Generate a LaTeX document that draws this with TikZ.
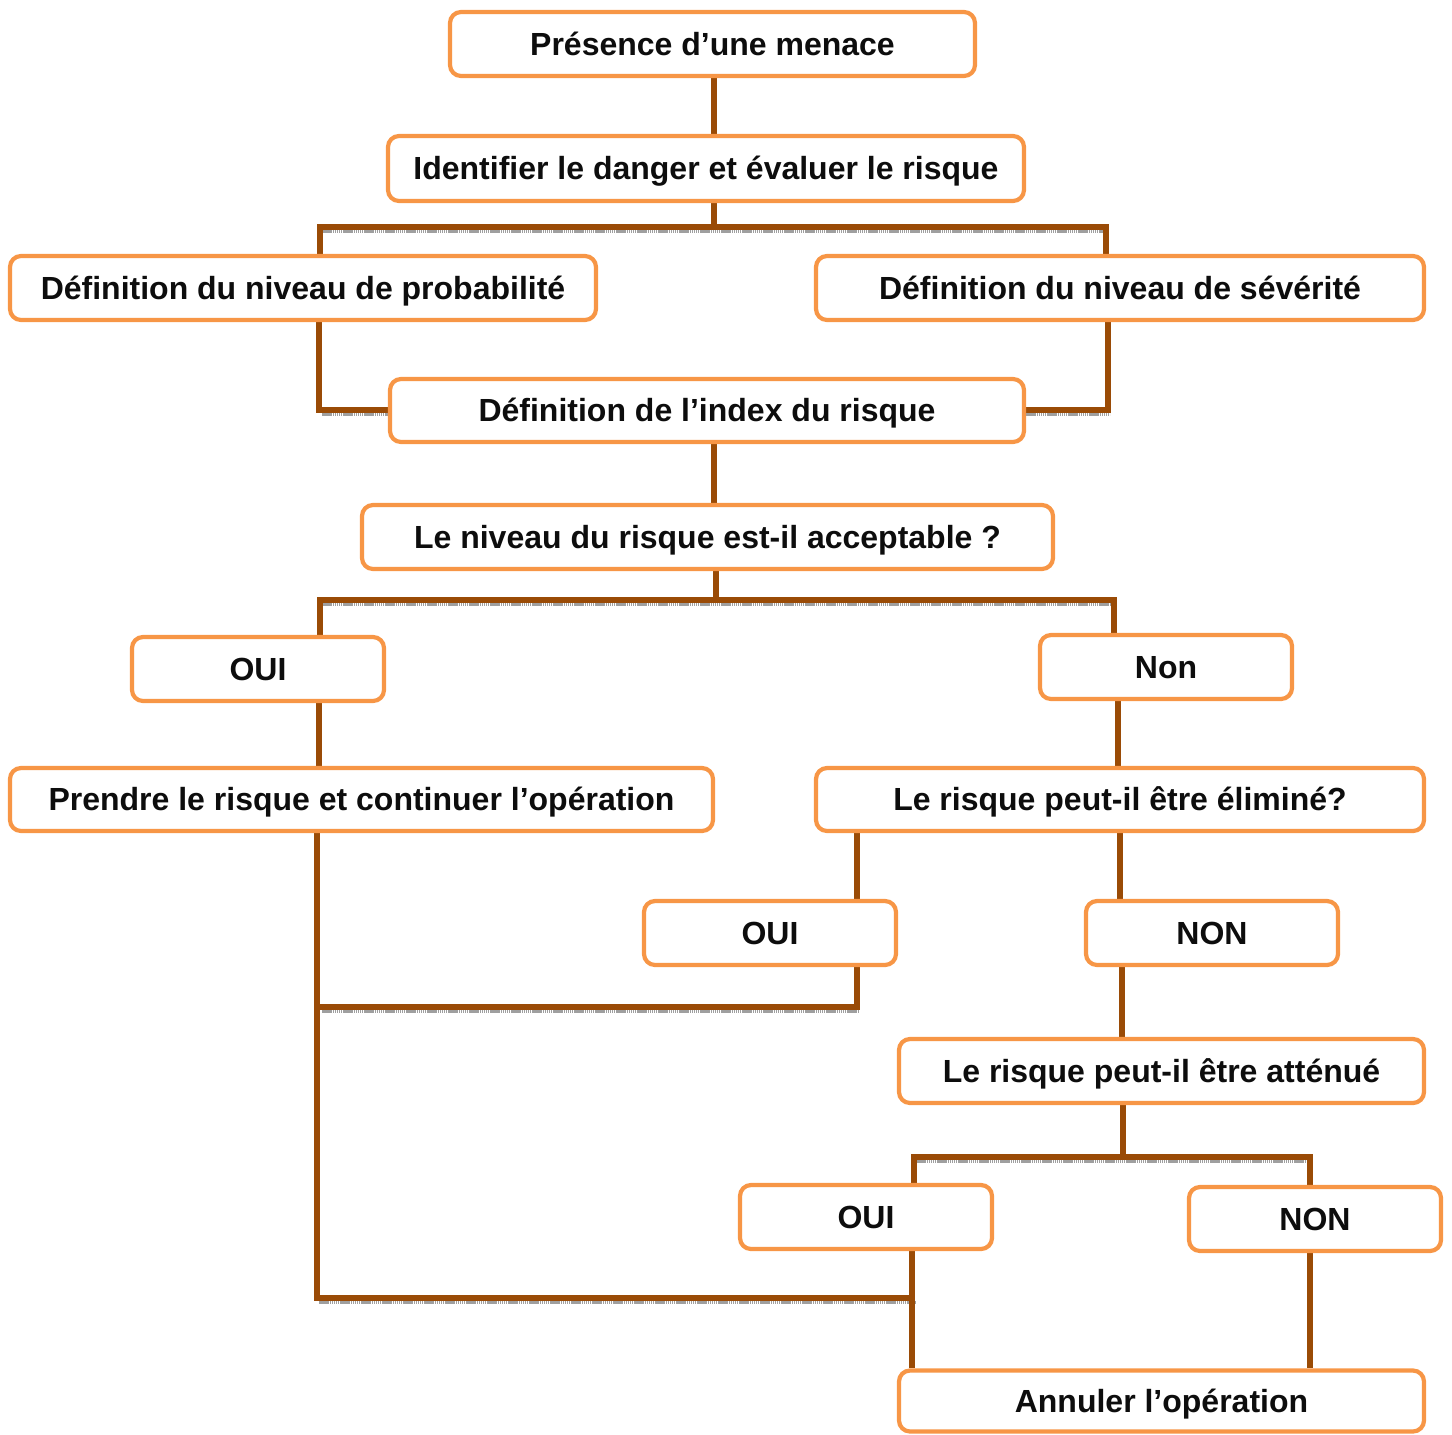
\documentclass[tikz,border=0pt]{standalone}
\usepackage{fontspec}
\setmainfont{Liberation Sans}
\usetikzlibrary{calc}
\definecolor{boxorange}{HTML}{F79646}
\definecolor{linkbrown}{HTML}{9A4B06}
\tikzset{
  box/.style={draw=boxorange, line width=4.2pt, rounded corners=11pt, fill=white,
    minimum height=64pt, inner sep=0pt, align=center,
    text height=22.9pt, text depth=0pt,
    font=\fontsize{32}{38}\selectfont\bfseries, text=black!95},
  conn/.style={draw=linkbrown, line width=5.5pt},
  shade/.style={draw=gray!75, line width=3pt, dash pattern=on 1.5pt off 0.6pt}
}
\begin{document}
\begin{tikzpicture}[x=1pt,y=-1pt]
\useasboundingbox (0,0) rectangle (1452,1435);
% junction coordinates
\coordinate (j2) at (714,227);
\coordinate (j6) at (716,600);
\coordinate (jp) at (317,1298);
\coordinate (jo) at (320,1007);
\coordinate (j13) at (1123,1157);
% shadows under horizontal connectors
\draw[shade] (322,231.5) -- (1108,231.5);
\draw[shade] (322,414.5) -- (388,414.5);
\draw[shade] (1026,414.5) -- (1110,414.5);
\draw[shade] (322,604.5) -- (1116,604.5);
\draw[shade] (322,1011.5) -- (859,1011.5);
\draw[shade] (319,1302.5) -- (916,1302.5);
\draw[shade] (916,1161.5) -- (1312,1161.5);
% connectors
\draw[conn] (714,78) -- (714,134);
\draw[conn] (714,203) -- (j2);
\draw[conn] (320,254) -- (320,227) -- (1106,227) -- (1106,254);
\draw[conn] (319,322) -- (319,410) -- (390,410);
\draw[conn] (1108,322) -- (1108,410) -- (1024,410);
\draw[conn] (714,444) -- (714,503);
\draw[conn] (716,571) -- (j6);
\draw[conn] (320,635) -- (320,600) -- (1114,600) -- (1114,633);
\draw[conn] (319,703) -- (319,766);
\draw[conn] (1118,701) -- (1118,766);
\draw[conn] (857,833) -- (857,899);
\draw[conn] (1120,833) -- (1120,899);
\draw[conn] (857,967) -- (857,1007) -- (jo);
\draw[conn] (317,833) -- (jp) -- (914,1298);
\draw[conn] (1122,967) -- (1122,1037);
\draw[conn] (1123,1105) -- (j13);
\draw[conn] (914,1183) -- (914,1157) -- (1310,1157) -- (1310,1185);
\draw[conn] (912,1251) -- (912,1368);
\draw[conn] (1310,1253) -- (1310,1368);
% boxes
\node[box, minimum width=525pt] (n1) at (712.5,44) {Présence d’une menace};
\node[box, minimum width=636pt, minimum height=65pt] (n2) at (706,168.5) {Identifier le danger et évaluer le risque};
\node[box, minimum width=586pt] (n3) at (303,288) {Définition du niveau de probabilité};
\node[box, minimum width=608pt] (n4) at (1120,288) {Définition du niveau de sévérité};
\node[box, minimum width=634pt, minimum height=63pt] (n5) at (707,410.5) {Définition de l’index du risque};
\node[box, minimum width=691pt] (n6) at (707.5,537) {Le niveau du risque est-il acceptable ?};
\node[box, minimum width=252pt] (n7) at (258,669) {OUI};
\node[box, minimum width=252pt] (n8) at (1166,667) {Non};
\node[box, minimum width=703pt, minimum height=63pt] (n9) at (361.5,799.5) {Prendre le risque et continuer l’opération};
\node[box, minimum width=608pt, minimum height=63pt] (n10) at (1120,799.5) {Le risque peut-il être éliminé?};
\node[box, minimum width=252pt] (n11) at (770,933) {OUI};
\node[box, minimum width=252pt] (n12) at (1212,933) {NON};
\node[box, minimum width=525pt] (n13) at (1161.5,1071) {Le risque peut-il être atténué};
\node[box, minimum width=252pt] (n14) at (866,1217) {OUI};
\node[box, minimum width=252pt] (n15) at (1315,1219) {NON};
\node[box, minimum width=525pt, minimum height=61pt] (n16) at (1161.5,1401) {Annuler l’opération};
\end{tikzpicture}
\end{document}
